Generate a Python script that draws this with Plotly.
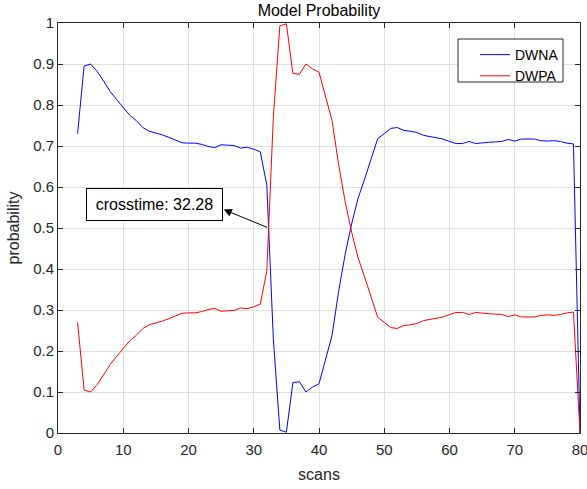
import plotly.graph_objects as go

scans = list(range(3, 81))

DWNA = [0.73, 0.895, 0.90, 0.882, 0.858, 0.833, 0.813, 0.793, 0.775, 0.762,
        0.745, 0.736, 0.732, 0.727, 0.721, 0.715, 0.708, 0.707, 0.707, 0.704,
        0.699, 0.696, 0.703, 0.702, 0.701, 0.695, 0.697, 0.692, 0.686, 0.605,
        0.23, 0.007, 0.002, 0.123, 0.125, 0.100, 0.112, 0.120, 0.176, 0.238,
        0.345, 0.435, 0.51, 0.573, 0.62, 0.67, 0.718, 0.73, 0.743, 0.745,
        0.738, 0.736, 0.733, 0.726, 0.723, 0.719, 0.717, 0.711, 0.706, 0.706,
        0.711, 0.706, 0.708, 0.709, 0.710, 0.711, 0.716, 0.712, 0.717, 0.717,
        0.717, 0.713, 0.712, 0.713, 0.711, 0.707, 0.705, 0.0]

DWPA = [0.27, 0.105, 0.10, 0.118, 0.142, 0.167, 0.187, 0.207, 0.225, 0.238,
        0.255, 0.264, 0.268, 0.273, 0.279, 0.285, 0.292, 0.293, 0.293, 0.296,
        0.301, 0.304, 0.297, 0.298, 0.299, 0.305, 0.303, 0.308, 0.314, 0.395,
        0.77, 0.993, 0.998, 0.877, 0.875, 0.900, 0.888, 0.880, 0.824, 0.762,
        0.655, 0.565, 0.49, 0.427, 0.38, 0.33, 0.282, 0.27, 0.257, 0.255,
        0.262, 0.264, 0.267, 0.274, 0.277, 0.281, 0.283, 0.289, 0.294, 0.294,
        0.289, 0.294, 0.292, 0.291, 0.290, 0.289, 0.284, 0.288, 0.283, 0.283,
        0.283, 0.287, 0.288, 0.287, 0.289, 0.293, 0.295, 0.0]

cross_time = 32.28
cross_prob = 0.5
label_text = "crosstime: 32.28"

FONT = "Liberation Sans, Arial, sans-serif"
TXT = "#262626"
GRID = "#e0e0e0"

W, H = 587, 489
L, R, T, B = 58, 7, 23, 56
PW, PH = W - L - R, H - T - B


def px_x(p):
    return (p - L) / PW


def px_y(p):
    return (H - B - p) / PH


fig = go.Figure()
fig.add_trace(go.Scatter(x=scans, y=DWNA, mode="lines", name="DWNA",
                         line=dict(color="#0000ff", width=1)))
fig.add_trace(go.Scatter(x=scans, y=DWPA, mode="lines", name="DWPA",
                         line=dict(color="#ff0000", width=1)))

axis_common = dict(showline=True, linecolor=TXT, linewidth=1, mirror="allticks",
                   ticks="inside", ticklen=5, tickcolor=TXT, showgrid=True,
                   gridcolor=GRID, gridwidth=1, zeroline=False, automargin=False,
                   ticklabeloverflow="allow",
                   tickfont=dict(family=FONT, size=15, color=TXT))

fig.update_layout(
    width=W, height=H,
    margin=dict(l=L, r=R, t=T, b=B, autoexpand=False),
    paper_bgcolor="white", plot_bgcolor="white",
    font=dict(family=FONT, size=15, color=TXT),
    title=dict(text="Model Probability", x=(58 + 580) / 2 / W,
               xanchor="center", y=1 - 10 / H, yanchor="middle",
               yref="container",
               font=dict(family=FONT, size=16, color="#000000")),
    xaxis=dict(range=[0, 80], dtick=10, tick0=0, ticklabelstandoff=3,
               title=dict(text="scans", standoff=11,
                          font=dict(family=FONT, size=16, color=TXT)),
               **axis_common),
    yaxis=dict(range=[0, 1], dtick=0.1, tick0=0,
               title=dict(text="probability", standoff=9,
                          font=dict(family=FONT, size=16, color=TXT)),
               **axis_common),
    legend=dict(x=px_x(475), xanchor="left", y=px_y(39), yanchor="top",
                bgcolor="rgba(0,0,0,0)", borderwidth=0,
                font=dict(family=FONT, size=14, color="#000000"),
                tracegroupgap=0, itemwidth=30),
    showlegend=True,
)

# legend frame
fig.add_shape(type="rect", xref="paper", yref="paper",
              x0=px_x(458), x1=px_x(563), y0=px_y(82), y1=px_y(39),
              line=dict(color=TXT, width=1), fillcolor="white", layer="above")

# text box
fig.add_annotation(x=14.75, y=0.558, xref="x", yref="y", text=label_text,
                   showarrow=False, font=dict(family=FONT, size=16, color="#000000"),
                   bgcolor="white", bordercolor="#000000", borderwidth=1,
                   borderpad=7, width=121)
# arrow from the crossing point to the text box
fig.add_annotation(x=25.4, y=0.545, xref="x", yref="y",
                   ax=cross_time, ay=cross_prob, axref="x", ayref="y",
                   text="", showarrow=True, arrowhead=2, arrowsize=1.6,
                   arrowwidth=1, arrowcolor="#000000", standoff=0, startstandoff=0)

fig.write_html("out.html", config={"displayModeBar": False},
               post_script="document.body.style.margin='0px';")
